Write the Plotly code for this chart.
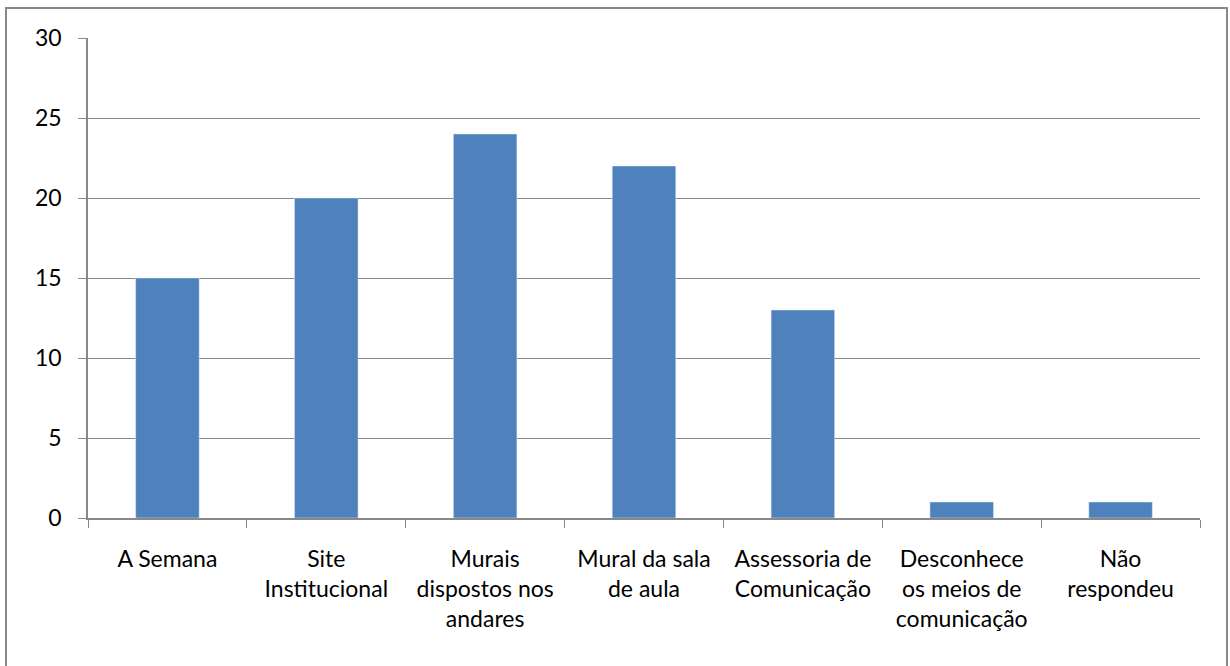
import plotly.graph_objects as go

categorias = [
    "A Semana",
    "Site<br>Institucional",
    "Murais<br>dispostos nos<br>andares",
    "Mural da sala<br>de aula",
    "Assessoria de<br>Comunicação",
    "Desconhece<br>os meios de<br>comunicação",
    "Não<br>respondeu",
]
respostas = [15, 20, 24, 22, 13, 1, 1]

fig = go.Figure(go.Bar(x=categorias, y=respostas, marker_color="#4F81BD", width=0.4))

W, H = 1230, 666
ml, mr, mt, mb = 88, 30, 38, 148
pw, ph = W - ml - mr, H - mt - mb

fig.update_layout(
    width=W, height=H,
    margin=dict(l=ml, r=mr, t=mt, b=mb),
    plot_bgcolor="white", paper_bgcolor="white",
    font=dict(family="Lato, Open Sans, sans-serif", size=23, color="black"),
    showlegend=False,
    xaxis=dict(
        tickson="boundaries", ticks="outside", ticklen=8, tickcolor="#888",
        showline=True, linecolor="#888", linewidth=1.5, showgrid=False,
        tickangle=0, ticklabelstandoff=20,
    ),
    yaxis=dict(
        range=[0, 30], dtick=5, ticks="outside", ticklen=8, tickcolor="#888",
        showline=True, linecolor="#888", linewidth=1.5,
        showgrid=True, gridcolor="#888", gridwidth=1.2,
        zeroline=False, ticklabelstandoff=12,
    ),
)

# moldura externa do gráfico
fig.add_shape(
    type="rect", xref="paper", yref="paper",
    x0=(6 - ml) / pw, x1=(1227 - ml) / pw,
    y0=-0.5, y1=1 + (mt - 8) / ph,
    line=dict(color="#888", width=2), fillcolor="rgba(0,0,0,0)", layer="below",
)

fig.write_html("out.html", config={"displayModeBar": False},
               post_script="document.body.style.margin='0';")
